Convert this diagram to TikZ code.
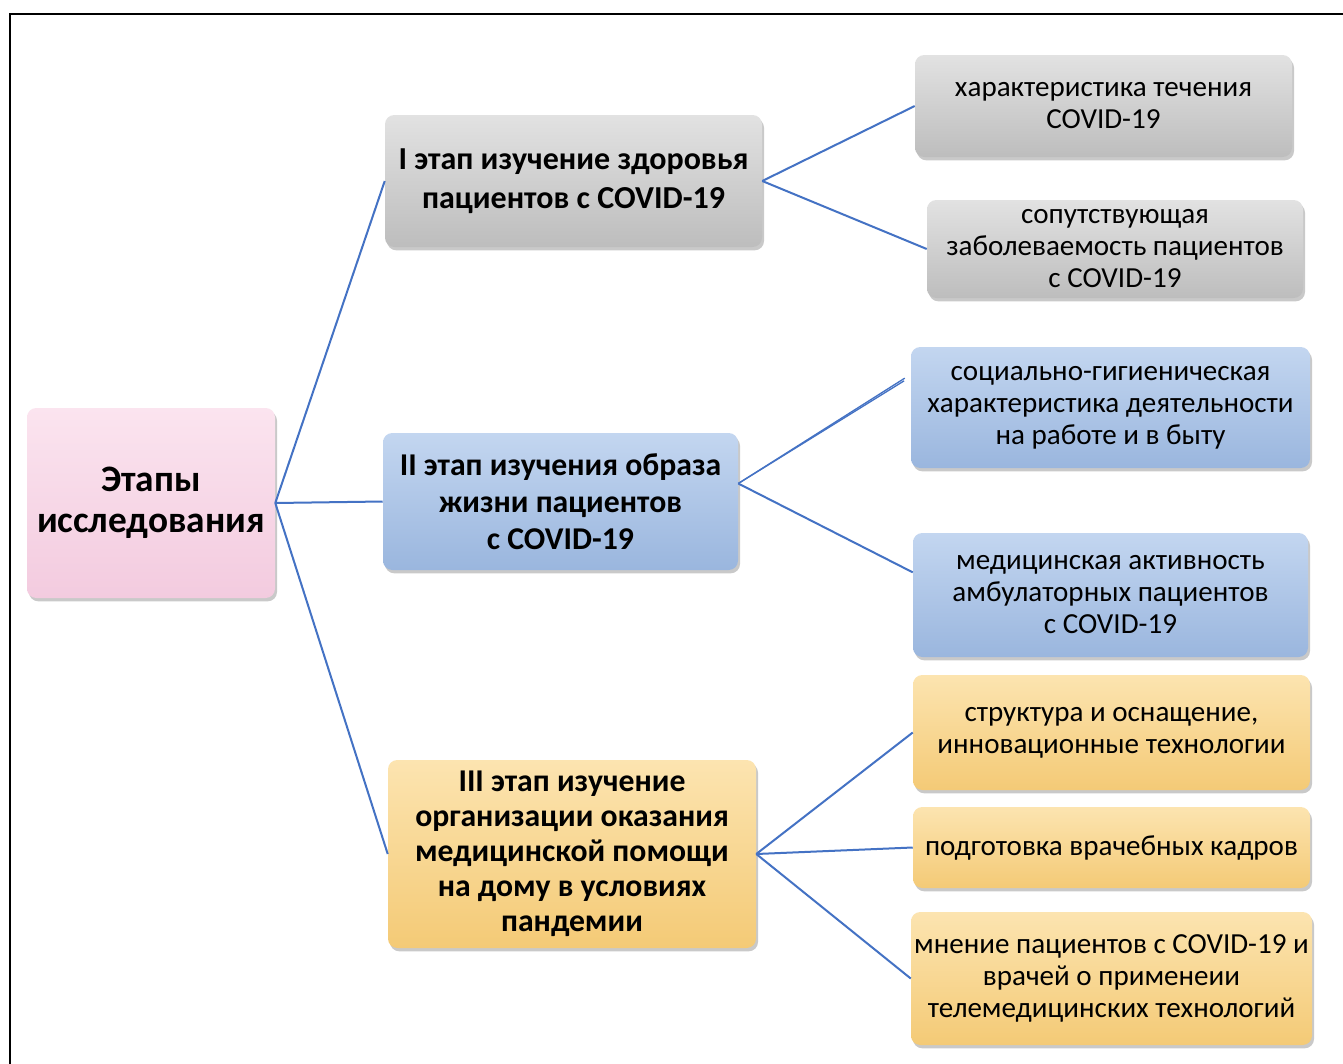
\documentclass[tikz,border=0pt]{standalone}
\usepackage{fontspec}
\setmainfont{Carlito}
\usetikzlibrary{shadows,calc}
\definecolor{lineblue}{HTML}{4472C4}
\definecolor{gmain}{HTML}{C9C9C9}
\definecolor{gtop}{HTML}{E2E2E2}
\definecolor{gbot}{HTML}{BDBDBD}
\definecolor{bmain}{HTML}{A9C3E6}
\definecolor{btop}{HTML}{C3D6F0}
\definecolor{bbot}{HTML}{9AB6DE}
\definecolor{ymain}{HTML}{F9D68D}
\definecolor{ytop}{HTML}{FCE4B0}
\definecolor{ybot}{HTML}{F4CA76}
\definecolor{pmain}{HTML}{F8D6E7}
\definecolor{ptop}{HTML}{FBE4EF}
\definecolor{pbot}{HTML}{F3CBDF}
\tikzset{
  x=0.75pt,y=-0.75pt,
  box/.style={rounded corners=7pt, align=center, inner sep=0pt, text=black,
    drop shadow={shadow xshift=1.5pt, shadow yshift=-2.5pt, opacity=0.35, fill=black!60}},
  graybox/.style={box, top color=gtop, middle color=gmain, bottom color=gbot},
  bluebox/.style={box, top color=btop, middle color=bmain, bottom color=bbot},
  yellowbox/.style={box, top color=ytop, middle color=ymain, bottom color=ybot},
  pinkbox/.style={box, top color=ptop, middle color=pmain, bottom color=pbot},
  conn/.style={draw=lineblue, line width=1.5pt},
  leaf/.style={font=\fontsize{21.8}{24}\selectfont},
}
\begin{document}
\begin{tikzpicture}
\useasboundingbox (0,0) rectangle (1343,1064);
\fill[white] (0,0) rectangle (1343,1064);
\draw[line width=1.6pt] (10,1064) -- (10,14) -- (1343,14);

% root
\node[pinkbox, minimum width=186pt, minimum height=142.5pt, font=\fontsize{28}{30.75}\selectfont\bfseries] (root) at (151,503) {Этапы\\исследования};

% stages
\node[graybox, minimum width=282.75pt, minimum height=99pt, font=\fontsize{24}{29.25}\selectfont\bfseries] (s1) at (573.5,181) {I этап изучение здоровья\\пациентов с COVID-19};
\node[bluebox, minimum width=266.25pt, minimum height=102.75pt, font=\fontsize{23.8}{27.75}\selectfont\bfseries] (s2) at (560.5,501.5) {II этап изучения образа\\жизни пациентов\\с COVID-19};
\node[yellowbox, minimum width=276pt, minimum height=141pt, font=\fontsize{23.8}{26.25}\selectfont\bfseries] (s3) at (572,854) {III этап изучение\\организации оказания\\медицинской помощи\\на дому в условиях\\пандемии};

% leaves
\node[graybox, leaf, minimum width=282.75pt, minimum height=76.5pt] (l1) at (1103.5,106) {характеристика течения\\COVID-19};
\node[graybox, leaf, minimum width=282pt, minimum height=73.5pt] (l2) at (1115,249) {сопутствующая\\заболеваемость пациентов\\с COVID-19};
\node[bluebox, leaf, minimum width=299.25pt, minimum height=90.75pt] (l3) at (1110.5,407.5) {социально-гигиеническая\\характеристика деятельности\\на работе и в быту};
\node[bluebox, leaf, minimum width=296.25pt, minimum height=93pt] (l4) at (1110.5,595) {медицинская активность\\амбулаторных пациентов\\с COVID-19};
\node[yellowbox, leaf, minimum width=297.75pt, minimum height=86.25pt] (l5) at (1111.5,732.5) {структура и оснащение,\\инновационные технологии};
\node[yellowbox, leaf, minimum width=297.75pt, minimum height=60.75pt] (l6) at (1111.5,847.5) {подготовка врачебных кадров};
\node[yellowbox, leaf, minimum width=300.75pt, minimum height=99.75pt] (l7) at (1111.5,978.5) {мнение пациентов с COVID-19 и\\врачей о применеии\\телемедицинских технологий};

% connector points
\coordinate (s2out) at ([yshift=13.5pt]s2.east);
\coordinate (l3inA) at ([xshift=-4.5pt,yshift=22pt]l3.west);
\coordinate (l3inB) at ([xshift=-5pt,yshift=20pt]l3.west);
\coordinate (l4in) at ([yshift=17pt]l4.west);

% connectors
\draw[conn] (root.east) -- (s1.west);
\draw[conn] (root.east) -- (s2.west);
\draw[conn] (root.east) -- (s3.west);
\draw[conn] (s1.east) -- (l1.west);
\draw[conn] (s1.east) -- (l2.west);
\draw[draw=lineblue, line width=1pt] (s2out) -- (l3inA);
\draw[draw=lineblue, line width=1pt] (s2out) -- (l3inB);
\draw[conn] (s2out) -- (l4in);
\draw[conn] (s3.east) -- (l5.west);
\draw[conn] (s3.east) -- (l6.west);
\draw[conn] (s3.east) -- (l7.west);
\end{tikzpicture}
\end{document}
